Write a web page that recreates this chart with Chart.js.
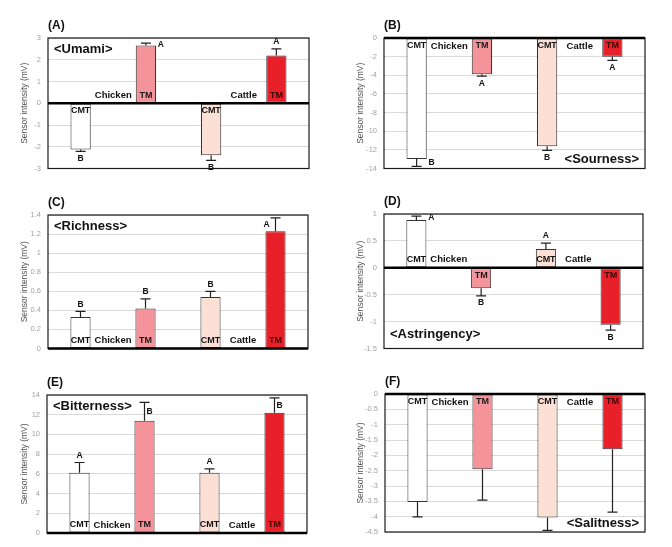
<!DOCTYPE html>
<html>
<head>
<meta charset="utf-8">
<script src="https://cdn.jsdelivr.net/npm/chart.js@4.4.1/dist/chart.umd.min.js"></script>
<style>
  body { margin: 0; background: #fff; width: 672px; height: 547px; position: relative; overflow: hidden; }
  .panel { position: absolute; }
</style>
</head>
<body>
<script>
// categories and labels
const categories = ['CMT Chicken', 'TM Chicken', 'CMT Cattle', 'TM Cattle']
const barText = ['CMT', 'TM', 'CMT', 'TM']
const groupText = ['Chicken', 'Cattle']

// (A) umami
const umami = [-2.13, 2.66, -2.39, 2.20]
const umamiSd = [0.08, 0.10, 0.24, 0.30]
const umamiLetters = ['B', 'A', 'B', 'A']
// (B) sourness
const sourness = [-12.97, -3.90, -11.60, -2.00]
const sournessSd = [0.80, 0.20, 0.45, 0.40]
const sournessLetters = ['B', 'A', 'B', 'A']
// (C) richness
const richness = [0.33, 0.42, 0.54, 1.23]
const richnessSd = [0.06, 0.10, 0.06, 0.14]
const richnessLetters = ['B', 'B', 'B', 'A']
// (D) astringency
const astringency = [0.89, -0.38, 0.35, -1.06]
const astringencySd = [0.07, 0.14, 0.11, 0.10]
const astringencyLetters = ['A', 'B', 'A', 'B']
// (E) bitterness
const bitterness = [6.10, 11.40, 6.10, 12.20]
const bitternessSd = [1.05, 1.85, 0.40, 1.50]
const bitternessLetters = ['A', 'B', 'A', 'B']
// (F) salitness
const salitness = [-3.52, -2.45, -4.03, -1.80]
const salitnessSd = [0.49, 1.01, 0.42, 2.05]
const salitnessLetters = ['', '', '', '']

// y axis ranges (tick labels)
const umamiTicks = [-3, 3, 1]
const sournessTicks = [-14, 0, 2]
const richnessTicks = [0, 1.4, 0.2]
const astringencyTicks = [-1.5, 1, 0.5]
const bitternessTicks = [0, 14, 2]
const salitnessTicks = [-4.5, 0, 0.5]

const colors = ['#ffffff', '#f4939a', '#fce0d5', '#e8202a']
const textColors = ['#111', '#1a1a1a', '#111', '#3d0808']

const extras = {
  id: 'extras',
  afterDatasetsDraw(chart, args, o) {
    const {ctx, chartArea: a, scales: {y}} = chart
    const y0 = y.getPixelForValue(0)
    const bars = chart.getDatasetMeta(0).data
    ctx.save()
    ctx.strokeStyle = '#1a1a1a'
    ctx.lineWidth = 1.2
    ctx.strokeRect(a.left, a.top, a.right - a.left, a.bottom - a.top)
    ctx.strokeStyle = '#000'
    ctx.lineWidth = 2.6
    ctx.beginPath(); ctx.moveTo(a.left, y0); ctx.lineTo(a.right, y0); ctx.stroke()

    ctx.textAlign = 'center'
    ctx.textBaseline = 'middle'
    bars.forEach((bar, i) => {
      const v = o.values[i], dir = v >= 0 ? 1 : -1
      const yEnd = y.getPixelForValue(v)
      const yCap = y.getPixelForValue(v + dir * o.sd[i])
      ctx.strokeStyle = '#222'
      ctx.lineWidth = 1.2
      ctx.beginPath()
      ctx.moveTo(bar.x, yEnd); ctx.lineTo(bar.x, yCap)
      ctx.moveTo(bar.x - 5, yCap); ctx.lineTo(bar.x + 5, yCap)
      ctx.stroke()

      // significance letters
      ctx.fillStyle = '#111'
      ctx.font = 'bold 8.5px "Liberation Sans", Arial, sans-serif'
      const mid = (yEnd + yCap) / 2
      const pos = o.letterPos[i]
      let lx = bar.x, ly = yCap - dir * 7
      if (pos === 'below' || pos === 'above') ly = yCap + (pos === 'below' ? 7 : -7)
      if (pos === 'right') { lx = bar.x + 15; ly = mid }
      if (pos === 'left') { lx = bar.x - 9; ly = mid }
      if (pos === 'inner') { lx = bar.x + 5; ly = mid }
      ctx.fillText(o.letters[i], lx, ly)

      // CMT / TM inside bar
      ctx.fillStyle = textColors[i]
      ctx.font = 'bold 9px "Liberation Sans", Arial, sans-serif'
      ctx.fillText(barText[i], bar.x, v >= 0 ? y0 - 8 : y0 + 7.5)
    })

    // Chicken / Cattle
    ctx.fillStyle = '#111'
    ctx.font = 'bold 9.5px "Liberation Sans", Arial, sans-serif'
    groupText.forEach((g, k) => {
      const b1 = bars[k * 2], b2 = bars[k * 2 + 1]
      const up = o.values[k * 2] > 0 || o.values[k * 2 + 1] > 0
      ctx.fillText(g, (b1.x + b2.x) / 2, up ? y0 - 8 : y0 + 8.5)
    })

    // taste title
    ctx.font = 'bold 13px "Liberation Sans", Arial, sans-serif'
    const t = o.title
    if (t.corner === 'tl') { ctx.textAlign = 'left'; ctx.fillText(t.text, a.left + 6, a.top + 11) }
    if (t.corner === 'bl') { ctx.textAlign = 'left'; ctx.fillText(t.text, a.left + 6, a.bottom - 14) }
    if (t.corner === 'br') { ctx.textAlign = 'right'; ctx.fillText(t.text, a.right - 6, a.bottom - 9) }

    // panel letter
    ctx.textAlign = 'left'
    ctx.font = 'bold 12px "Liberation Sans", Arial, sans-serif'
    ctx.fillText(o.panel, a.left, a.top - 12)
    ctx.restore()
  }
}

function makePanel(cfg) {
  const div = document.createElement('div')
  div.className = 'panel'
  div.style.left = cfg.x + 'px'
  div.style.top = cfg.y + 'px'
  const canvas = document.createElement('canvas')
  canvas.width = 336
  canvas.height = cfg.h
  div.appendChild(canvas)
  document.body.appendChild(div)
  const [L, T, R, B] = cfg.box
  new Chart(canvas.getContext('2d'), {
    type: 'bar',
    data: {
      labels: categories,
      datasets: [{
        data: cfg.values,
        backgroundColor: colors,
        borderColor: '#333',
        borderWidth: 1,
        borderSkipped: false,
        barPercentage: 0.31,
        categoryPercentage: 1
      }]
    },
    options: {
      responsive: false,
      animation: false,
      devicePixelRatio: 1,
      layout: {padding: {left: 0, top: T - cfg.y, right: cfg.x + 336 - R, bottom: cfg.y + cfg.h - B}},
      plugins: {
        legend: {display: false},
        tooltip: {enabled: false},
        extras: {values: cfg.values, sd: cfg.sd, letters: cfg.letters, letterPos: cfg.letterPos, title: cfg.title, panel: cfg.panel}
      },
      scales: {
        x: {display: false},
        y: {
          min: cfg.ticks[0], max: cfg.ticks[1],
          afterFit: s => { s.width = L - cfg.x },
          ticks: {
            stepSize: cfg.ticks[2],
            padding: 7,
            color: '#a3a3a3',
            font: {size: 7.5, family: '"Liberation Sans", Arial, sans-serif'},
            callback: v => String(+Number(v).toFixed(2))
          },
          grid: {color: '#d9d9d9', drawTicks: false},
          border: {display: false},
          title: {
            display: true,
            text: 'Sensor intensity (mV)',
            color: '#555',
            font: {size: 8.5, family: '"Liberation Sans", Arial, sans-serif'},
            padding: {top: 20, bottom: 0}
          }
        }
      }
    },
    plugins: [extras]
  })
}

makePanel({panel: '(A)', x: 0, y: 0, h: 180, box: [48, 38, 309, 174], values: umami, sd: umamiSd, letters: umamiLetters,
  letterPos: ['below', 'right', 'below', 'above'], ticks: umamiTicks, title: {text: '<Umami>', corner: 'tl'}})
makePanel({panel: '(B)', x: 336, y: 0, h: 180, box: [384, 38, 645, 174], values: sourness, sd: sournessSd, letters: sournessLetters,
  letterPos: ['right', 'below', 'below', 'below'], ticks: sournessTicks, title: {text: '<Sourness>', corner: 'br'}})
makePanel({panel: '(C)', x: 0, y: 180, h: 180, box: [48, 215, 308, 352], values: richness, sd: richnessSd, letters: richnessLetters,
  letterPos: ['above', 'above', 'above', 'left'], ticks: richnessTicks, title: {text: '<Richness>', corner: 'tl'}})
makePanel({panel: '(D)', x: 336, y: 180, h: 180, box: [384, 214, 643, 351], values: astringency, sd: astringencySd, letters: astringencyLetters,
  letterPos: ['right', 'below', 'above', 'below'], ticks: astringencyTicks, title: {text: '<Astringency>', corner: 'bl'}})
makePanel({panel: '(E)', x: 0, y: 360, h: 187, box: [47, 395, 307, 533], values: bitterness, sd: bitternessSd, letters: bitternessLetters,
  letterPos: ['above', 'inner', 'above', 'inner'], ticks: bitternessTicks, title: {text: '<Bitterness>', corner: 'tl'}})
makePanel({panel: '(F)', x: 336, y: 360, h: 187, box: [385, 394, 645, 532], values: salitness, sd: salitnessSd, letters: salitnessLetters,
  letterPos: ['below', 'below', 'below', 'below'], ticks: salitnessTicks, title: {text: '<Salitness>', corner: 'br'}})
</script>
</body>
</html>
